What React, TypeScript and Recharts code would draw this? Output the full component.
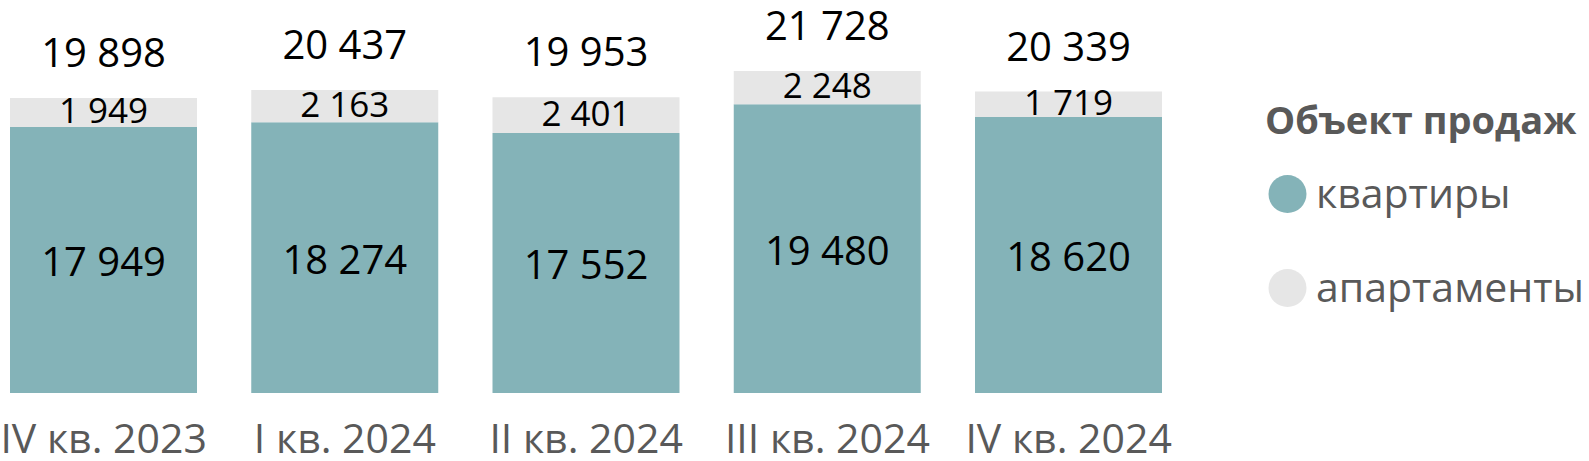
import React from 'react'
import { BarChart, Bar, XAxis, YAxis, LabelList, Legend } from 'recharts'

const quarters = ['IV кв. 2023', 'I кв. 2024', 'II кв. 2024', 'III кв. 2024', 'IV кв. 2024']
const flats = [17949, 18274, 17552, 19480, 18620]
const apartments = [1949, 2163, 2401, 2248, 1719]
const totals = [19898, 20437, 19953, 21728, 20339]
const seriesOrder = ['квартиры', 'апартаменты']

const data = quarters.map((q, i) => ({
    q,
    flats: flats[i],
    apartments: apartments[i],
    total: totals[i],
}))

const FONT = '"Open Sans", sans-serif'
const TEAL = '#84B3B8'
const GREY = '#E6E6E6'

const fmt = (v: number) => String(v).replace(/\B(?=(\d{3})+(?!\d))/g, ' ')

const inner = (size: number, shift: number) => (p: any) => {
    const { x, y, width, height, value } = p
    return (
        <text
            x={x + width / 2}
            y={y + height / 2 + size * 0.36 + shift}
            textAnchor="middle"
            fontFamily={FONT}
            fontSize={size}
            fill="#000"
        >
            {fmt(value)}
        </text>
    )
}

const top = (p: any) => {
    const { x, y, width, value } = p
    return (
        <text x={x + width / 2} y={y - 31} textAnchor="middle" fontFamily={FONT} fontSize={40} fill="#000">
            {fmt(value)}
        </text>
    )
}

const Tick = ({ x, y, payload }: any) => (
    <text x={x} y={y} dy={60} textAnchor="middle" fontFamily={FONT} fontSize={41} fill="#595959">
        {payload.value}
    </text>
)

const LegendBox = ({ payload }: any) => {
    const items = [...(payload || [])].sort(
        (a: any, b: any) => seriesOrder.indexOf(a.value) - seriesOrder.indexOf(b.value)
    )
    return (
        <svg width={359} height={250}>
            <text x={35} y={54} fontFamily={FONT} fontSize={38} fontWeight="bold" fill="#595959">
                Объект продаж
            </text>
            {items.map((item: any, i: number) => (
                <g key={item.value}>
                    <circle cx={57.5} cy={114 + i * 94} r={19} fill={item.color} />
                    <text x={86} y={128 + i * 94} fontFamily={FONT} fontSize={41} fill="#595959">
                        {item.value}
                    </text>
                </g>
            ))}
        </svg>
    )
}

export default function App() {
    return (
        <div style={{ position: 'absolute', left: -17, top: 0 }}>
            <BarChart
                width={1606}
                height={461}
                data={data}
                margin={{ top: 22.5, right: 399.75, bottom: 0, left: 0 }}
                barSize={187}
            >
                <XAxis
                    dataKey="q"
                    axisLine={false}
                    tickLine={false}
                    tickSize={0}
                    tickMargin={0}
                    height={68}
                    interval={0}
                    tick={<Tick />}
                />
                <YAxis hide domain={[0, 25000]} />
                <Legend
                    layout="vertical"
                    align="center"
                    verticalAlign="middle"
                    content={<LegendBox />}
                    wrapperStyle={{ left: 1247, top: 80, width: 359, height: 250 }}
                />
                <Bar dataKey="flats" name="квартиры" stackId="s" fill={TEAL} isAnimationActive={false}>
                    <LabelList dataKey="flats" content={inner(40, 2)} />
                </Bar>
                <Bar dataKey="apartments" name="апартаменты" stackId="s" fill={GREY} isAnimationActive={false}>
                    <LabelList dataKey="apartments" content={inner(35, -2)} />
                    <LabelList dataKey="total" content={top} />
                </Bar>
            </BarChart>
        </div>
    )
}
